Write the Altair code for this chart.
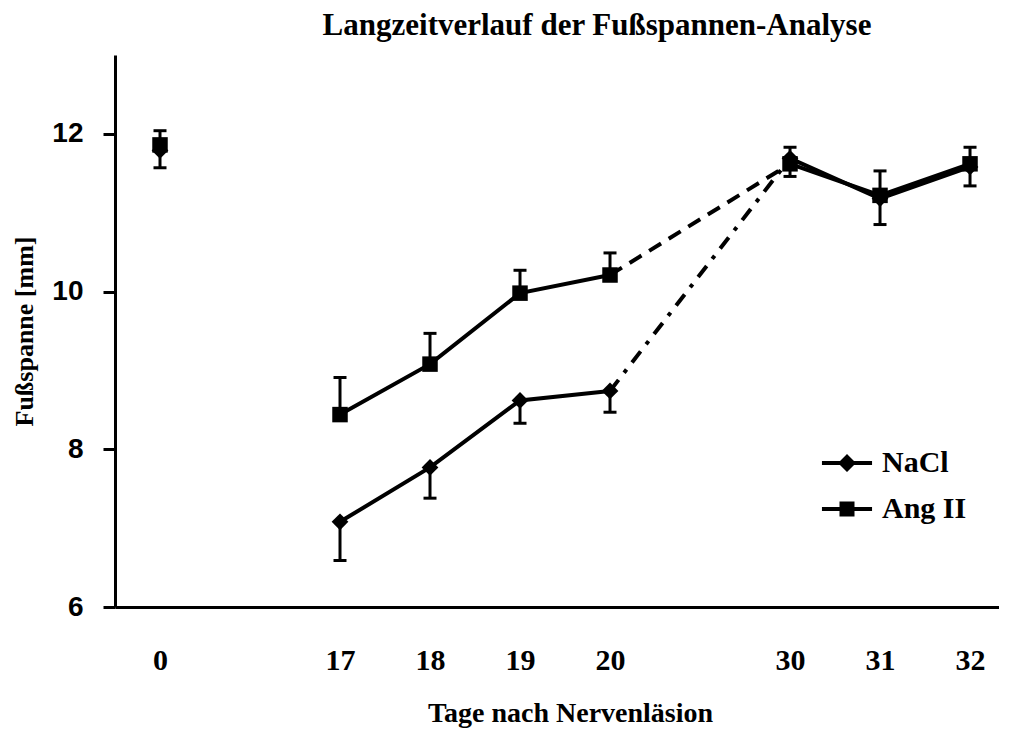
import json
import altair as alt
import pandas as pd

# ---- data ----
days = [0, 17, 18, 19, 20, 30, 31, 32]
axis_slots = [0, None, 17, 18, 19, 20, None, 30, 31, 32]   # category order of the x axis (None = gap)
phases = ["base", "early", "early", "early", "early", "late", "late", "late"]
series_names = ["NaCl", "Ang II"]
nacl = [11.79, 7.08, 7.77, 8.62, 8.74, 11.69, 11.18, 11.58]
nacl_err_low = [11.57, 6.59, 7.38, 8.33, 8.47, 11.46, 10.85, 11.34]
angii = [11.86, 8.44, 9.08, 9.98, 10.21, 11.62, 11.22, 11.62]
angii_err_high = [12.04, 8.91, 9.47, 10.27, 10.49, 11.83, 11.53, 11.83]
y_ticks = [6, 8, 10, 12]

rows = []
for i, d in enumerate(days):
    slot = axis_slots.index(d)
    rows.append(dict(day=d, pos=slot, series="NaCl", phase=phases[i], value=nacl[i],
                     ea=nacl_err_low[i], eb=nacl[i], cap=nacl_err_low[i]))
    rows.append(dict(day=d, pos=slot, series="Ang II", phase=phases[i], value=angii[i],
                     ea=angii[i], eb=angii_err_high[i], cap=angii_err_high[i]))
df = pd.DataFrame(rows)
df["seg"] = df["series"] + "_" + df["phase"]

SERIF = "Liberation Serif"
SANS = "Liberation Sans"

slot_labels = json.dumps(["" if s is None else str(s) for s in axis_slots])
real_slots = [axis_slots.index(d) for d in days]

W, H = 884, 552

x_enc = alt.X("pos:Q",
              scale=alt.Scale(domain=[-0.5, 9.322], nice=False, zero=False),
              axis=alt.Axis(values=real_slots, labelExpr=f"{slot_labels}[datum.value]",
                            ticks=False, tickSize=0, grid=False,
                            domainColor="black", domainWidth=3,
                            labelFont=SERIF, labelFontSize=30, labelFontWeight="bold",
                            labelColor="black", labelBaseline="alphabetic", labelPadding=62,
                            labelFlush=False,
                            title="Tage nach Nervenläsion", titleFont=SERIF,
                            titleFontSize=28, titleFontWeight="bold", titleColor="black",
                            titleX=455, titleY=114, titleAlign="center",
                            titleBaseline="alphabetic"))

y_scale = alt.Scale(domain=[6, 13], nice=False, zero=False)
y_axis = alt.Axis(values=y_ticks, format="d", grid=False, domainColor="black", domainWidth=3,
                  tickColor="black", tickWidth=3, tickSize=12,
                  labelFont=SANS, labelFontSize=28, labelFontWeight="bold",
                  labelColor="black", labelPadding=20,
                  title="Fußspanne [mm]", titleFont=SERIF, titleFontSize=26,
                  titleFontWeight="bold", titleColor="black",
                  titleAngle=270, titleX=-83, titleY=276, titleAlign="center",
                  titleBaseline="alphabetic")

base = alt.Chart(df)

solid = base.transform_filter("datum.phase != 'base'").mark_line(
    color="black", strokeWidth=4).encode(
    x=x_enc, y=alt.Y("value:Q", scale=y_scale, axis=y_axis),
    detail="seg:N", order="pos:Q")

conn_nacl = base.transform_filter(
    "(datum.day == 20 || datum.day == 30) && datum.series == 'NaCl'").mark_line(
    color="black", strokeWidth=4, strokeDash=[14, 9, 4, 9]).encode(
    x="pos:Q", y="value:Q", order="pos:Q")
conn_ang = base.transform_filter(
    "(datum.day == 20 || datum.day == 30) && datum.series == 'Ang II'").mark_line(
    color="black", strokeWidth=4, strokeDash=[14, 9]).encode(
    x="pos:Q", y="value:Q", order="pos:Q")

err = base.mark_rule(color="black", strokeWidth=3).encode(
    x="pos:Q", y="ea:Q", y2="eb:Q")

caps = base.mark_tick(color="black", orient="horizontal", size=13, thickness=3,
                      opacity=1).encode(x="pos:Q", y="cap:Q")

pts_nacl = base.transform_filter("datum.series == 'NaCl'").mark_point(
    shape="diamond", filled=True, color="black", opacity=1, size=280).encode(
    x="pos:Q", y="value:Q")
pts_ang = base.transform_filter("datum.series == 'Ang II'").mark_point(
    shape="square", filled=True, color="black", opacity=1, size=240).encode(
    x="pos:Q", y="value:Q")

# legend symbols: line with marker (custom paths in a unit box, scaled by symbol size)
path_diamond = ("M-1.67,-0.13H1.67V0.13H-1.67Z "
                "M0,-0.6L0.6,0L0,0.6L-0.6,0Z")
path_square = ("M-1.67,-0.13H1.67V0.13H-1.67Z "
               "M-0.5,-0.5H0.5V0.5H-0.5Z")

legend_layer = base.transform_filter("datum.day == 0").mark_point(
    filled=True, color="black", opacity=0).encode(
    x="pos:Q", y="value:Q",
    shape=alt.Shape("series:N",
                    scale=alt.Scale(domain=series_names, range=[path_diamond, path_square]),
                    legend=alt.Legend(title=None, orient="none", legendX=717, legendY=393,
                                      symbolSize=900, symbolFillColor="black",
                                      symbolStrokeColor="black",
                                      symbolStrokeWidth=0, symbolOpacity=1,
                                      labelFont=SERIF, labelFontSize=30,
                                      labelFontWeight="bold", labelColor="black",
                                      labelOffset=20, rowPadding=16, padding=0)))

chart = alt.layer(solid, conn_nacl, conn_ang, err, caps, pts_nacl, pts_ang,
                  legend_layer).properties(
    width=W, height=H,
    padding={"left": 107, "top": 47, "right": 0, "bottom": 122},
    autosize=alt.AutoSizeParams(type="none"),
    title=alt.TitleParams(text="Langzeitverlauf der Fußspannen-Analyse",
                          font=SERIF, fontSize=31, fontWeight="bold", color="black",
                          anchor="middle", dx=40, baseline="alphabetic", offset=-11,
                          frame="group"),
).configure(background="white").configure_view(stroke=None)

chart.save("out.html", embed_options={"renderer": "svg", "actions": False})
